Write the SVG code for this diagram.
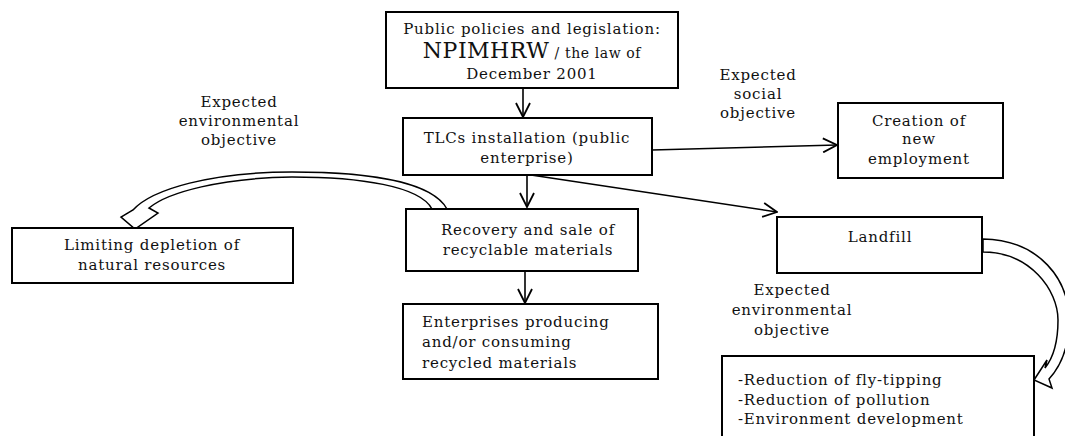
<svg xmlns="http://www.w3.org/2000/svg" width="1065" height="436" viewBox="0 0 1065 436">
<defs>
<style>
.box{fill:#fff;stroke:#000;stroke-width:2}
.t{font-family:"DejaVu Serif","Liberation Serif",serif;font-size:15px;letter-spacing:0.8px;fill:#111}
.m{text-anchor:middle}
.ln{stroke:#000;stroke-width:1.6;fill:none}
.hol{fill:#fff;stroke:#000;stroke-width:1.5;stroke-linejoin:miter}
</style>
<marker id="ahb" viewBox="0 0 16 16" refX="15" refY="8" markerWidth="16" markerHeight="16" markerUnits="userSpaceOnUse" orient="auto">
<path d="M1,1 L15,8 L1,15" fill="none" stroke="#000" stroke-width="1.8"/>
</marker>
</defs>
<rect width="1065" height="436" fill="#fff"/>

<g id="connectors">
<line class="ln" x1="523" y1="88" x2="523" y2="117" marker-end="url(#ahb)"/>
<line class="ln" x1="527" y1="175" x2="527" y2="207" marker-end="url(#ahb)"/>
<line class="ln" x1="525" y1="271" x2="525" y2="303" marker-end="url(#ahb)"/>
<line class="ln" x1="652" y1="150" x2="837" y2="145" marker-end="url(#ahb)"/>
<line class="ln" x1="531" y1="175" x2="777" y2="212" marker-end="url(#ahb)"/>
<path class="hol" d="M432 209 C420 186 360 177 292 177 C222 178 168 192 149 208 L158 213 L135 229 L121 217 L133 210 C152 189 212 172 292 172 C370 172 432 182 447 209 Z"/>
<path class="hol" d="M983 252 C1030 252 1058 290 1058 320 C1058 343 1053 358 1045 368 L1047 360 L1034 380 L1052 388 L1049 379 C1062 365 1069 345 1069 320 C1069 280 1040 240 983 239 Z"/>
</g>

<g id="n-policy">
<rect class="box" x="386" y="12" width="292" height="76"/>
<text class="t m" x="532" y="34">Public policies and legislation:</text>
<text class="t m" x="532" y="58"><tspan style="font-size:22px;letter-spacing:0.5px">NPIMHRW</tspan><tspan style="font-size:14px;letter-spacing:0.6px"> / the law of</tspan></text>
<text class="t m" x="532" y="79">December 2001</text>
</g>

<g id="n-tlc">
<rect class="box" x="403" y="118" width="249" height="57"/>
<text class="t m" x="527" y="143">TLCs installation (public</text>
<text class="t m" x="527" y="163">enterprise)</text>
</g>

<g id="n-recovery">
<rect class="box" x="406" y="209" width="232" height="62"/>
<text class="t m" x="528" y="235">Recovery and sale of</text>
<text class="t m" x="528" y="255">recyclable materials</text>
</g>

<g id="n-enterprises">
<rect class="box" x="403" y="304" width="255" height="75"/>
<text class="t" x="422" y="327">Enterprises producing</text>
<text class="t" x="422" y="347">and/or consuming</text>
<text class="t" x="422" y="368">recycled materials</text>
</g>

<g id="n-limiting">
<rect class="box" x="12" y="228" width="281" height="55"/>
<text class="t m" x="152" y="250">Limiting depletion of</text>
<text class="t m" x="152" y="270">natural resources</text>
</g>

<g id="n-creation">
<rect class="box" x="838" y="103" width="165" height="75"/>
<text class="t m" x="919" y="126">Creation of</text>
<text class="t m" x="919" y="144">new</text>
<text class="t m" x="919" y="164">employment</text>
</g>

<g id="n-landfill">
<rect class="box" x="777" y="217" width="205" height="56"/>
<text class="t m" x="880" y="242">Landfill</text>
</g>

<g id="n-results">
<rect class="box" x="722" y="356" width="312" height="90"/>
<text class="t" x="738" y="385">-Reduction of fly-tipping</text>
<text class="t" x="738" y="405">-Reduction of pollution</text>
<text class="t" x="738" y="424">-Environment development</text>
</g>

<g id="l-env-left">
<text class="t m" x="239" y="107">Expected</text>
<text class="t m" x="239" y="126">environmental</text>
<text class="t m" x="239" y="145">objective</text>
</g>

<g id="l-social">
<text class="t m" x="758" y="80">Expected</text>
<text class="t m" x="758" y="99">social</text>
<text class="t m" x="758" y="118">objective</text>
</g>

<g id="l-env-right">
<text class="t m" x="792" y="295">Expected</text>
<text class="t m" x="792" y="315">environmental</text>
<text class="t m" x="792" y="335">objective</text>
</g>
</svg>
